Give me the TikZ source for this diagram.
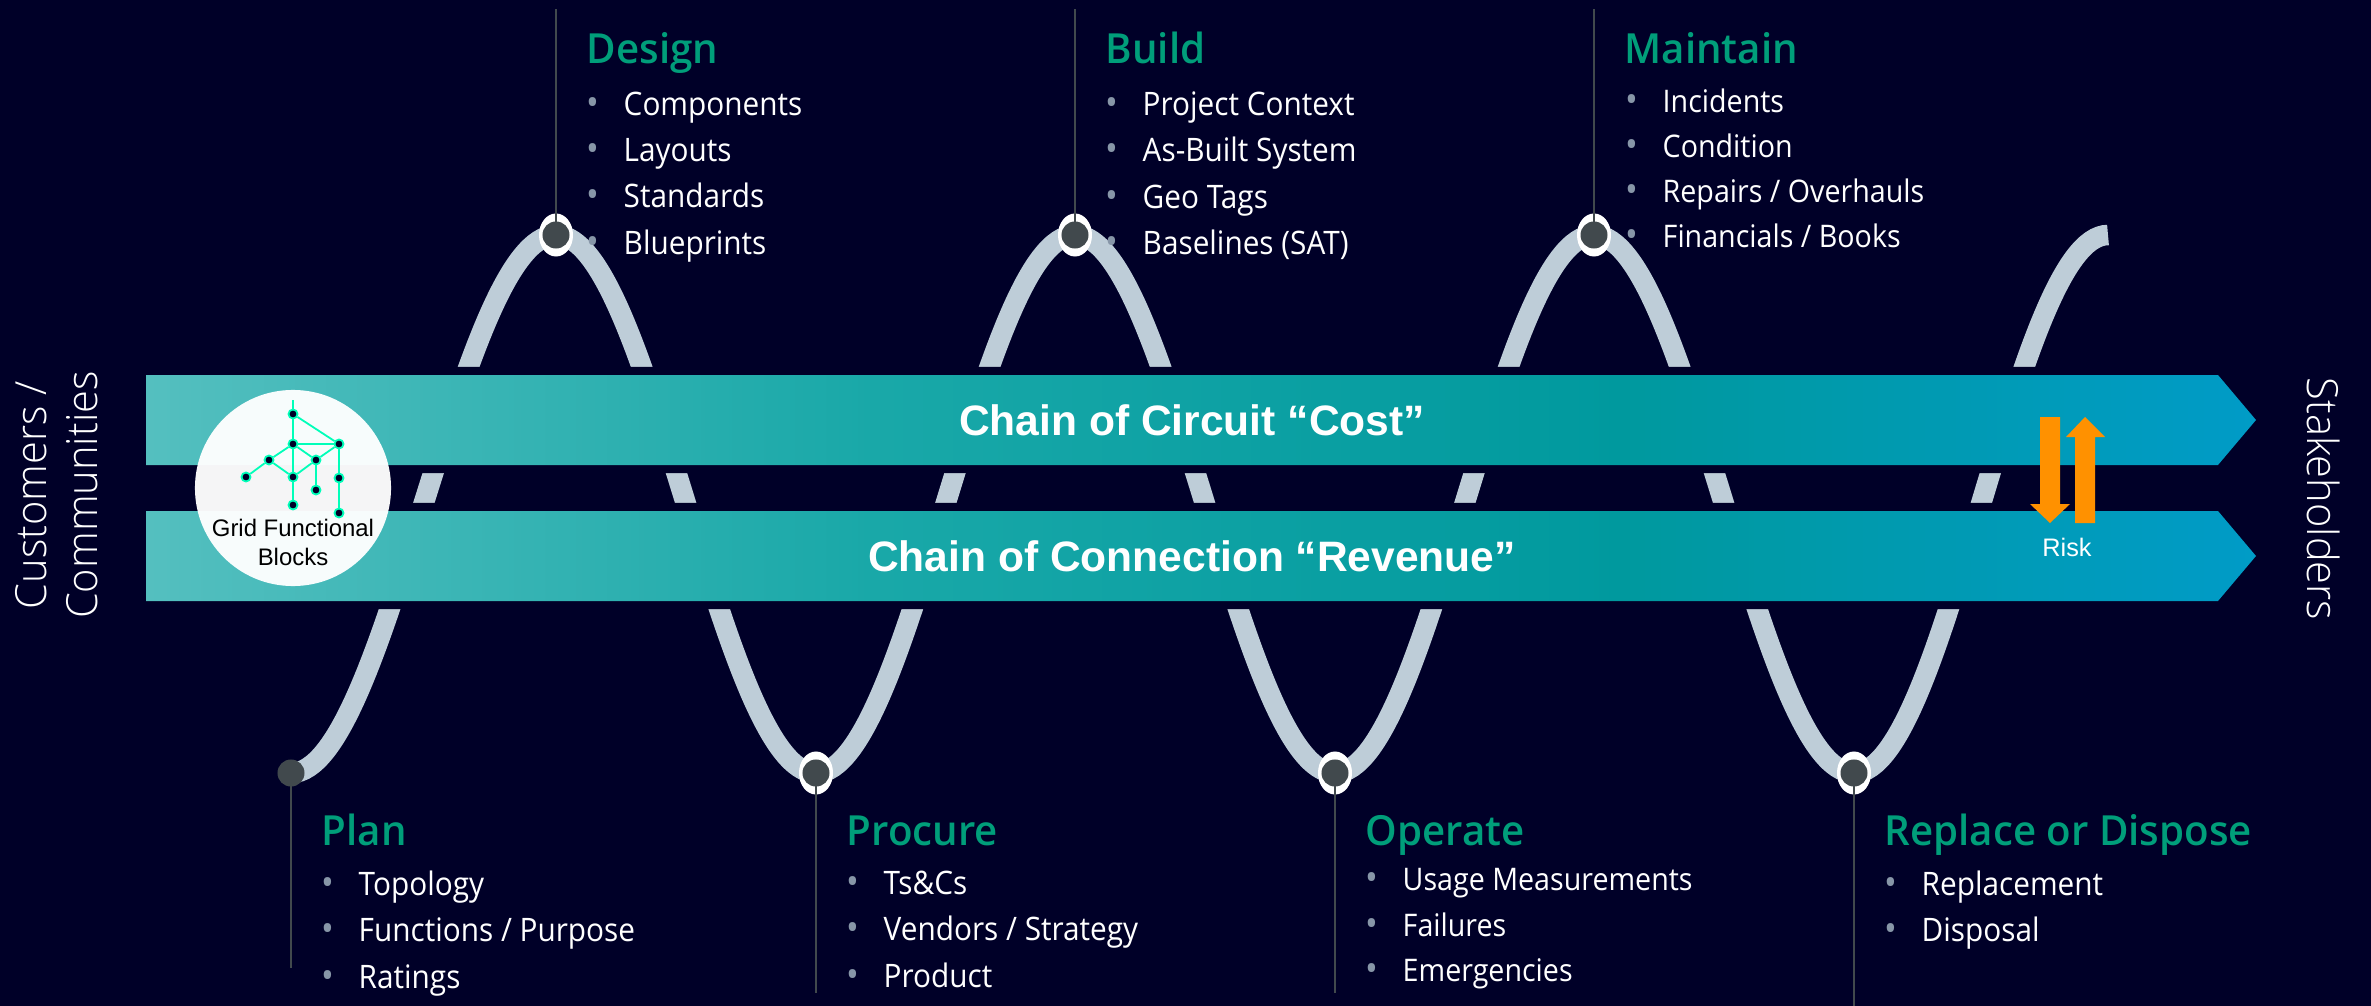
\documentclass[tikz,border=0pt]{standalone}
\usepackage{xcolor}
\usepackage{fontspec}
\usepackage{tikz}
\usetikzlibrary{shapes.geometric, arrows, positioning}
\setmainfont{Open Sans}[FakeStretch=0.92]
\newfontfamily\arialfont{Liberation Sans}
\newfontfamily\headfont{Open Sans Semibold}[FakeStretch=0.97]
\newfontfamily\lightfont{Open Sans Light}[FakeStretch=0.97]
\definecolor{nightblue}{RGB}{0, 0, 40}
\definecolor{wavegray}{RGB}{190, 205, 216}
\definecolor{stemgray}{RGB}{65, 73, 77}
\definecolor{headgreen}{RGB}{0, 158, 122}
\definecolor{bulletgray}{RGB}{135, 150, 168}
\definecolor{riskorange}{RGB}{255, 145, 0}
\definecolor{gridgreen}{RGB}{0, 255, 185}
\pgfdeclarehorizontalshading{chainfade}{100bp}{
    rgb(0bp)=(0.33,0.75,0.75);
    rgb(25bp)=(0.33,0.75,0.75);
    rgb(42bp)=(0.10,0.66,0.66);
    rgb(60bp)=(0,0.60,0.62);
    rgb(75bp)=(0,0.61,0.78);
    rgb(100bp)=(0,0.61,0.78)}
\newcommand{\bul}{\makebox[3.7mm][l]{\textcolor{bulletgray}{\fontsize{10.5}{10.5}\selectfont•}}}

\begin{document}
\begin{tikzpicture}[
    x=0.01cm, y=-0.01cm,
    wave/.style={draw=wavegray, line width=2.05mm},
    chain/.style={shading=chainfade, shading angle=0,
                  preaction={draw=nightblue, line width=1.6mm}},
    chainlabel/.style={font=\arialfont\fontsize{12.1}{14}\selectfont\bfseries, text=white},
    stem/.style={draw=stemgray, line width=0.25mm},
    dot/.style={circle, fill=stemgray, inner sep=0pt, minimum size=2.7mm},
    halo/.style={ellipse, fill=white, inner sep=0pt, minimum width=3.4mm, minimum height=4.3mm},
    heading/.style={anchor=base west, inner sep=0pt, text=headgreen,
                    font=\headfont\fontsize{11.8}{14}\selectfont},
    itemlist/.style={anchor=north west, inner sep=0pt, align=left, text=white,
                     font=\fontsize{9.2}{13.2}\selectfont},
    itemlisttight/.style={itemlist, font=\fontsize{8.85}{12.85}\selectfont},
    sidelabel/.style={inner sep=0pt, align=center, text=white,
                      font=\lightfont\fontsize{12.2}{14.5}\selectfont},
    riskarrow/.style={fill=riskorange},
    griddot/.style={circle, draw=gridgreen, fill=nightblue, line width=0.18mm,
                    inner sep=0pt, minimum size=0.9mm},
    gridline/.style={draw=gridgreen, line width=0.18mm},
    blocktext/.style={inner sep=0pt, text=black, font=\arialfont\fontsize{6.8}{8}\selectfont}
]
\useasboundingbox (0,0) rectangle (2371,1006);
\fill[nightblue] (0,0) rectangle (2371,1006);

% wave points
\coordinate (t1) at (291,773);
\coordinate (m1) at (423.5,504);
\coordinate (p1) at (556,235);
\coordinate (m2) at (686,504);
\coordinate (t2) at (816,773);
\coordinate (m3) at (945.5,504);
\coordinate (p2) at (1075,235);
\coordinate (m4) at (1205,504);
\coordinate (t3) at (1335,773);
\coordinate (m5) at (1464.5,504);
\coordinate (p3) at (1594,235);
\coordinate (m6) at (1724,504);
\coordinate (t4) at (1854,773);
\coordinate (m7) at (1981,504);
\coordinate (p4) at (2108,235);

\draw[wave] (t1) cos (m1) sin (p1) cos (m2) sin (t2) cos (m3) sin (p2) cos (m4) sin (t3)
    cos (m5) sin (p3) cos (m6) sin (t4) cos (m7) sin (p4);

% chains
\path[chain] (146,375) -- (2218,375) -- (2256,420) -- (2218,465) -- (146,465) -- cycle;
\path[chain] (146,511) -- (2218,511) -- (2256,556) -- (2218,601) -- (146,601) -- cycle;
\node[chainlabel] (circuit) at (1192,420) {Chain of Circuit “Cost”};
\node[chainlabel] (connection) at (1192,556) {Chain of Connection “Revenue”};

% stems and dots
\coordinate (designtop) at (556,9);
\coordinate (buildtop) at (1075,9);
\coordinate (maintaintop) at (1594,9);
\coordinate (planend) at (291,968);
\coordinate (procureend) at (816,993);
\coordinate (operateend) at (1335,993);
\coordinate (replaceend) at (1854,1006);

\node[halo] at (p1) {};
\node[halo] at (p2) {};
\node[halo] at (p3) {};
\node[halo] at (t2) {};
\node[halo] at (t3) {};
\node[halo] at (t4) {};
\node[dot] (designdot) at (p1) {};
\node[dot] (builddot) at (p2) {};
\node[dot] (maintaindot) at (p3) {};
\node[dot] (plandot) at (t1) {};
\node[dot] (procuredot) at (t2) {};
\node[dot] (operatedot) at (t3) {};
\node[dot] (replacedot) at (t4) {};

\draw[stem] (designtop) -- (designdot.center);
\draw[stem] (buildtop) -- (builddot.center);
\draw[stem] (maintaintop) -- (maintaindot.center);
\draw[stem] (plandot.center) -- (planend);
\draw[stem] (procuredot.center) -- (procureend);
\draw[stem] (operatedot.center) -- (operateend);
\draw[stem] (replacedot.center) -- (replaceend);

% texts
\node[heading] (design) at (586,64) {Design};
\node[itemlist] (designitems) at (586,91) {\bul Components\\\bul Layouts\\\bul Standards\\\bul Blueprints};
\node[heading] (build) at (1105,64) {Build};
\node[itemlist] (builditems) at (1105,91) {\bul Project Context\\\bul As-Built System\\\bul Geo Tags\\\bul Baselines (SAT)};
\node[heading] (maintain) at (1624,64) {Maintain};
\node[itemlisttight] (maintainitems) at (1625,88) {\bul Incidents\\\bul Condition\\\bul Repairs / Overhauls\\\bul Financials / Books};
\node[heading] (plan) at (321,845) {Plan};
\node[itemlist] (planitems) at (321,870) {\bul Topology\\\bul Functions / Purpose\\\bul Ratings};
\node[heading] (procure) at (846,845) {Procure};
\node[itemlist] (procureitems) at (846,870) {\bul Ts\&Cs\\\bul Vendors / Strategy\\\bul Product};
\node[heading] (operate) at (1365,845) {Operate};
\node[itemlisttight] (operateitems) at (1365,868) {\bul Usage Measurements\\\bul Failures\\\bul Emergencies};
\node[heading] (replace) at (1884,845) {Replace or Dispose};
\node[itemlist] (replaceitems) at (1884,870) {\bul Replacement\\\bul Disposal};

\node[sidelabel, rotate=90] (customers) at (57,495) {Customers /\\Communities};
\node[sidelabel, rotate=-90] (stakeholders) at (2324,499) {Stakeholders};

% risk arrows
\path[riskarrow] (2040,417) -- (2060,417) -- (2060,504) -- (2070,504) -- (2050,523) -- (2030,504) -- (2040,504) -- cycle;
\path[riskarrow] (2075,523) -- (2095,523) -- (2095,437) -- (2105,437) -- (2085,417) -- (2066,437) -- (2075,437) -- cycle;
\node[inner sep=0pt, text=white, font=\arialfont\fontsize{7.2}{9}\selectfont] (risk) at (2067,547) {Risk};

% grid functional blocks
\node[circle, fill=white, fill opacity=0.96, inner sep=0pt, minimum size=19.6mm] (blocks) at (293,488) {};
\coordinate (g0) at (293,400);
\node[griddot] (g1) at (293,414) {};
\node[griddot] (g2) at (293,444) {};
\node[griddot] (g3) at (339,444) {};
\node[griddot] (g4) at (269,460) {};
\node[griddot] (g5) at (316,460) {};
\node[griddot] (g6) at (246,477) {};
\node[griddot] (g7) at (293,477) {};
\node[griddot] (g8) at (339,478) {};
\node[griddot] (g9) at (316,490) {};
\node[griddot] (g10) at (293,505) {};
\node[griddot] (g11) at (339,513) {};
\draw[gridline] (g0) -- (g1);
\draw[gridline] (g1) -- (g2);
\draw[gridline] (g1) -- (g3);
\draw[gridline] (g2) -- (g3);
\draw[gridline] (g2) -- (g4);
\draw[gridline] (g2) -- (g5);
\draw[gridline] (g3) -- (g5);
\draw[gridline] (g4) -- (g6);
\draw[gridline] (g4) -- (g7);
\draw[gridline] (g5) -- (g7);
\draw[gridline] (g2) -- (g7);
\draw[gridline] (g7) -- (g10);
\draw[gridline] (g5) -- (g9);
\draw[gridline] (g3) -- (g8);
\draw[gridline] (g8) -- (g11);
\node[blocktext] (blocksone) at (293,528) {Grid Functional};
\node[blocktext] (blockstwo) at (293,557) {Blocks};

\end{tikzpicture}
\end{document}
